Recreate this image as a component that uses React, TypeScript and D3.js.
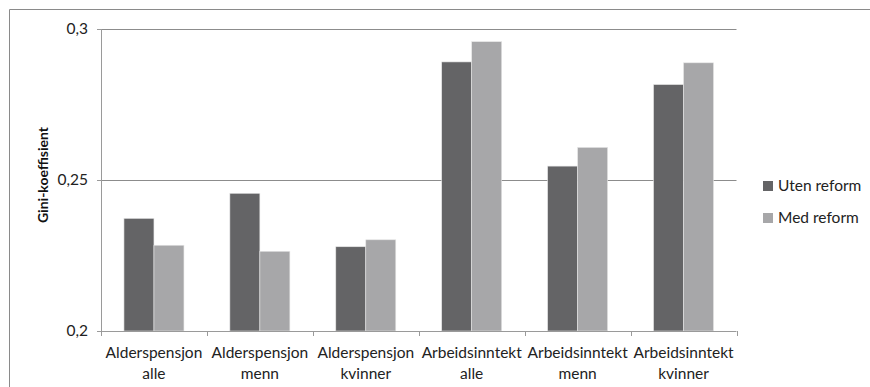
import React from "react";
import * as d3 from "d3";

const categories: string[][] = [
  ["Alderspensjon", "alle"],
  ["Alderspensjon", "menn"],
  ["Alderspensjon", "kvinner"],
  ["Arbeidsinntekt", "alle"],
  ["Arbeidsinntekt", "menn"],
  ["Arbeidsinntekt", "kvinner"],
];
const seriesNames = ["Uten reform", "Med reform"];
const utenReform = [0.2373, 0.2456, 0.2279, 0.2891, 0.2546, 0.2816];
const medReform = [0.2284, 0.2264, 0.2302, 0.2958, 0.2608, 0.2888];
const yTicks = [0.2, 0.25, 0.3];
const yTickLabels = ["0,2", "0,25", "0,3"];

const colors = ["#646466", "#a7a7a9"];
const FONT = "Lato, 'Open Sans', sans-serif";

export default function App() {
  const width = 870;
  const height = 387;
  const left = 101;
  const right = 736.5;
  const top = 29;
  const bottom = 331;

  const x = d3.scaleBand<number>().domain(d3.range(categories.length)).range([left, right]);
  const y = d3.scaleLinear().domain([0.2, 0.3]).range([bottom, top]);
  const barW = 30;
  const series = [utenReform, medReform];

  return (
    <svg width={width} height={height} style={{ position: "absolute", left: 0, top: 0, background: "#fff" }}>
      {/* outer frame: top and left edges */}
      <line x1={9.5} y1={9.5} x2={width} y2={9.5} stroke="#8a8a8a" strokeWidth={1} />
      <line x1={9.5} y1={9.5} x2={9.5} y2={height} stroke="#8a8a8a" strokeWidth={1} />

      {/* gridlines */}
      {yTicks.slice(1).map((t) => (
        <line key={t} x1={left} x2={right} y1={Math.round(y(t)) + 0.5} y2={Math.round(y(t)) + 0.5} stroke="#8c8c8c" />
      ))}

      {/* bars */}
      {categories.map((_, i) => {
        const cx = (x(i) as number) + x.bandwidth() / 2;
        return series.map((s, k) => (
          <rect
            key={`${i}-${k}`}
            x={cx - barW + k * barW}
            y={y(s[i])}
            width={barW}
            height={bottom - y(s[i])}
            fill={colors[k]}
            stroke="#e6e6e6"
            strokeWidth={0.6}
          />
        ));
      })}

      {/* y axis */}
      <line x1={left + 0.5} x2={left + 0.5} y1={top} y2={bottom} stroke="#9a9a9a" />
      {yTicks.map((t, i) => (
        <g key={t}>
          <line x1={left - 4} x2={left} y1={Math.round(y(t)) + 0.5} y2={Math.round(y(t)) + 0.5} stroke="#9a9a9a" />
          <text x={88} y={y(t)} dy="0.35em" textAnchor="end" fontFamily={FONT} fontSize={15.5} fill="#222">
            {yTickLabels[i]}
          </text>
        </g>
      ))}

      {/* x axis */}
      <line x1={left} x2={right} y1={bottom + 0.5} y2={bottom + 0.5} stroke="#9a9a9a" />
      {d3.range(categories.length + 1).map((i) => {
        const tx = Math.round(left + i * x.step()) + 0.5;
        return <line key={i} x1={tx} x2={tx} y1={bottom} y2={bottom + 5} stroke="#9a9a9a" />;
      })}
      {categories.map((c, i) => {
        const cx = (x(i) as number) + x.bandwidth() / 2;
        return (
          <text key={i} x={cx} textAnchor="middle" fontFamily={FONT} fontSize={15.5} fill="#222">
            <tspan x={cx} y={358}>{c[0]}</tspan>
            <tspan x={cx} y={379}>{c[1]}</tspan>
          </text>
        );
      })}

      {/* y axis title */}
      <text
        transform={`translate(48,${(top + bottom) / 2 - 5}) rotate(-90)`}
        textAnchor="middle"
        fontFamily={FONT}
        fontWeight="bold"
        fontSize={14}
        fill="#111"
      >
        Gini-koeffisient
      </text>

      {/* legend */}
      {seriesNames.map((n, k) => (
        <g key={n} transform={`translate(763,${186 + k * 32})`}>
          <rect x={0} y={-5} width={10} height={10} fill={colors[k]} />
          <text x={15} dy="0.35em" fontFamily={FONT} fontSize={15.5} fill="#222">
            {n}
          </text>
        </g>
      ))}
    </svg>
  );
}
